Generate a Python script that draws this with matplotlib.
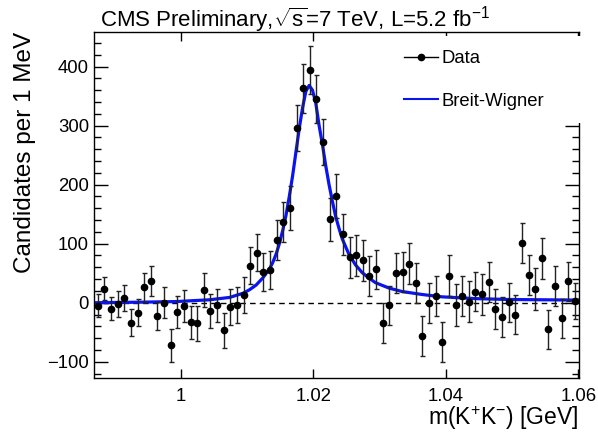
import numpy as np
import matplotlib
matplotlib.use('Agg')
import matplotlib.pyplot as plt
from matplotlib.lines import Line2D
from matplotlib.patches import Rectangle

plt.rcParams['font.family'] = ['Liberation Sans', 'DejaVu Sans']
plt.rcParams['mathtext.fontset'] = 'custom'
plt.rcParams['mathtext.rm'] = 'Liberation Sans'
plt.rcParams['mathtext.it'] = 'Liberation Sans'

# data points, 1 MeV bins starting at 0.9875 GeV
x0 = 0.9875
counts = [-5, 24, -10, -2, 8, -34, -17, 26, 37, -23,
          0, -72, -16, -6, -33, -35, 22, -14, -4, -47,
          -7, -4, 13, 63, 85, 52, 55, 106, 136, 160,
          296, 363, 394, 345, 273, 141, 181, 116, 77, 80,
          72, 45, 57, -34, -4, 50, 52, 66, 33, -56,
          -1, 11, -67, 46, -4, 12, 2, 19, 14, 35,
          -10, -24, 1, -20, 101, 47, 23, 75, -45, 29,
          -26, 36, 3]
errors = [20, 20, 19, 22, 22, 23, 23, 25, 25, 24,
          26, 28, 27, 27, 28, 29, 29, 28, 28, 29,
          30, 31, 30, 31, 31, 32, 32, 34, 34, 37,
          39, 41, 41, 40, 39, 37, 37, 35, 35, 35,
          35, 34, 33, 34, 33, 34, 34, 35, 34, 34,
          34, 34, 34, 34, 35, 34, 34, 33, 34, 34,
          34, 34, 33, 33, 34, 34, 35, 35, 33, 34,
          33, 33, 30]

# fitted Breit-Wigner curve (offset from 1.0194 GeV in MeV)
bw_dm = [-32.4, -25, -20, -15, -12, -10, -9, -8, -7, -6, -5.5, -5, -4.5, -4,
         -3.5, -3, -2.5, -2, -1.5, -1, -0.5, 0, 0.5, 1, 1.5, 2, 2.5, 3, 3.5,
         4, 4.5, 5, 6, 7, 8, 9, 10, 12, 14, 17, 20, 25, 30, 35, 40.6]
bw_val = [0, 1, 2, 5, 9, 16, 22, 30, 42, 57, 68, 82, 100, 122,
          148, 180, 215, 255, 295, 330, 358, 368, 360, 338, 300, 268, 232, 200, 172,
          146, 126, 108, 82, 64, 51, 42, 34, 25, 19, 14, 10, 7, 5.5, 5, 4.5]

mass = x0 + 0.001 * np.arange(len(counts))
bw_x = 1.0194 + 0.001 * np.array(bw_dm)

fig = plt.figure(figsize=(5.98, 4.32), dpi=100)
ax = fig.add_axes([0.158, 0.1243, 0.810, 0.8023])

ax.axhline(0, color='black', lw=1, ls=(0, (4, 3)), zorder=1)
ax.plot(bw_x, bw_val, color='#0a14f0', lw=2.3, zorder=2)
ax.errorbar(mass, counts, yerr=errors, fmt='o', color='black', ecolor='#222222',
            ms=4.5, elinewidth=1, capsize=1.8, capthick=1, zorder=3)

ax.set_xlim(0.987, 1.0601)
ax.set_ylim(-128, 459)
ax.set_xticks([1.0, 1.02, 1.04, 1.06])
ax.set_xticklabels(['1', '1.02', '1.04', '1.06'])
ax.set_yticks([-100, 0, 100, 200, 300, 400])
ax.set_yticks(np.arange(-120, 460, 20), minor=True)
ax.tick_params(axis='both', which='both', direction='in', labelsize=13.3)
ax.tick_params(axis='y', which='major', length=10, width=1, right=True, pad=4)
ax.tick_params(axis='y', which='minor', length=5, width=1, right=True)
ax.tick_params(axis='x', which='major', length=6.8, width=1, top=True, pad=7)
for s in ax.spines.values():
    s.set_linewidth(1)

ax.set_xlabel('m(K$^{+}$K$^{-}$) [GeV]', fontsize=16.5, loc='right', labelpad=-1)
ax.set_ylabel('Candidates per 1 MeV', fontsize=17.5, loc='top', labelpad=8)

# white legend pad hiding the right frame, as in the original
ax.add_patch(Rectangle((0.61, 0.7366), 0.41, 0.251, transform=ax.transAxes,
                       facecolor='white', edgecolor='none', clip_on=False, zorder=4))

handles = [Line2D([], [], color='black', marker='o', ms=4.5, lw=1),
           Line2D([], [], color='#0a14f0', lw=1.5)]
leg = ax.legend(handles, ['Data', 'Breit-Wigner'], loc='upper left',
                bbox_to_anchor=(0.639, 0.947), fontsize=13.3, frameon=False,
                handlelength=1.84, handletextpad=0.2, labelspacing=1.4,
                borderpad=0, borderaxespad=0)
leg.set_zorder(5)

fig.text(0.168, 0.9375, r'CMS Preliminary,$\sqrt{s}$=7 TeV, L=5.2 fb$^{-1}$',
         fontsize=16, va='baseline')

fig.savefig('out.png', dpi=100)
